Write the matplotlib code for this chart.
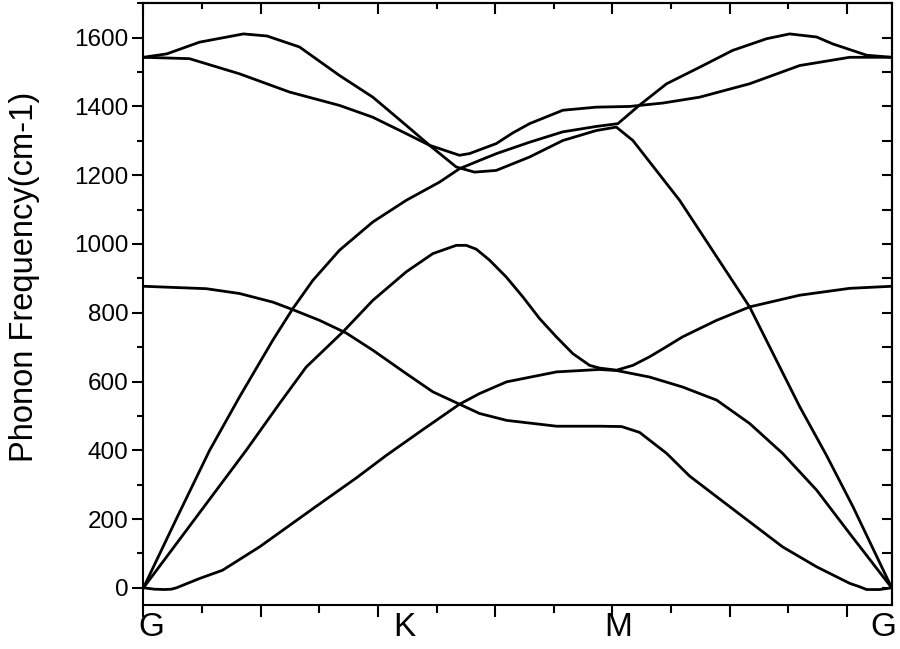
import matplotlib
matplotlib.use("Agg")
import matplotlib.pyplot as plt
from matplotlib.ticker import MultipleLocator, NullFormatter

plt.rcParams['font.family'] = ['Liberation Sans', 'DejaVu Sans']

# ---- data: k-path coordinate (tick units) and frequency (cm-1) ----
c1_x = [0, 1.070, 1.638, 2.206, 2.548, 3.003, 3.459, 3.914, 4.483, 4.937, 5.392, 5.734,
        6.195, 7.048, 7.782, 8.157, 8.464, 8.925, 9.317, 9.778, 10.341, 10.904, 11.195,
        11.485, 12.048, 12.218, 12.338, 12.560, 12.765]
c1_y = [877, 870, 856, 831, 809, 778, 741, 691, 623, 570, 534, 507,
        487, 470, 470, 469, 452, 391, 325, 265, 192, 119, 90,
        61, 13, 3, -5, -5, 0]

c2_x = [0, 0.188, 0.358, 0.478, 0.563, 0.956, 1.348, 1.980, 2.947, 3.635, 4.142, 4.766,
        5.392, 5.734, 6.195, 7.048, 7.782, 8.072, 8.635, 9.198, 9.778, 10.341, 10.904,
        11.485, 12.048, 12.765]
c2_y = [0, -4, -5, -4, 0, 27, 51, 119, 237, 320, 385, 460,
        534, 565, 599, 628, 635, 632, 613, 584, 546, 478, 391,
        284, 158, 0]

c3_x = [0, 1.753, 2.321, 2.776, 3.401, 3.913, 4.483, 4.937, 5.336, 5.507, 5.677, 5.904,
        6.189, 6.473, 6.758, 7.043, 7.326, 7.611, 7.782, 8.072, 8.350, 8.635, 8.920,
        9.198, 9.778, 10.341, 11.195, 12.048, 12.765]
c3_y = [0, 400, 536, 642, 744, 836, 919, 972, 996, 996, 985, 953,
        904, 846, 783, 730, 681, 647, 639, 633, 647, 672, 701,
        730, 778, 817, 851, 871, 877]

c4_x = [0, 0.56, 1.126, 1.638, 2.206, 2.548, 2.889, 3.345, 3.913, 4.483, 5.051, 5.392,
        5.734, 6.024, 6.587, 7.150, 7.730, 8.094, 8.464, 8.925, 9.488, 10.051, 10.631,
        11.024, 11.485, 11.758, 12.338, 12.765]
c4_y = [0, 200, 399, 555, 720, 812, 894, 982, 1064, 1127, 1180, 1219,
        1243, 1263, 1296, 1326, 1342, 1350, 1404, 1466, 1514, 1563, 1597,
        1611, 1602, 1582, 1549, 1543]

c5_x = [0, 0.400, 0.956, 1.706, 2.106, 2.662, 3.345, 3.913, 4.483, 4.881, 5.336, 5.648,
        6.019, 6.587, 7.155, 7.725, 8.067, 8.350, 9.147, 10.341, 11.195, 11.650, 12.104,
        12.765]
c5_y = [1543, 1553, 1587, 1611, 1605, 1573, 1490, 1427, 1345, 1287, 1224, 1209,
        1214, 1253, 1301, 1330, 1340, 1301, 1127, 817, 527, 386, 236,
        0]

c6_x = [0, 0.785, 1.638, 2.491, 3.345, 3.908, 4.483, 4.881, 5.392, 5.563, 6.019, 6.300,
        6.587, 7.155, 7.725, 8.294, 8.863, 9.488, 10.341, 11.195, 12.048, 12.765]
c6_y = [1543, 1539, 1495, 1442, 1403, 1369, 1321, 1287, 1258, 1263, 1292, 1323,
        1350, 1389, 1398, 1400, 1410, 1427, 1466, 1519, 1543, 1543]

branches = [(c1_x, c1_y), (c2_x, c2_y), (c3_x, c3_y),
            (c4_x, c4_y), (c5_x, c5_y), (c6_x, c6_y)]

kpoint_labels = ['G', 'K', 'M', 'G']
kpoint_label_x = [0.14, 4.45, 8.10, 12.63]

y_label = 'Phonon Frequency(cm-1)'

# ---- figure ----
fig = plt.figure(figsize=(9.0, 6.49), dpi=100)
ax = fig.add_axes([0.1594, 0.0678, 0.8317, 0.9271])

for bx, by in branches:
    ax.plot(bx, by, color='black', lw=2.0, solid_joinstyle='round', solid_capstyle='round')

ax.set_xlim(0, 12.77)
ax.set_ylim(-50, 1700)

ax.xaxis.set_major_locator(MultipleLocator(2))
ax.xaxis.set_minor_locator(MultipleLocator(1))
ax.xaxis.set_major_formatter(NullFormatter())
ax.yaxis.set_major_locator(MultipleLocator(200))
ax.yaxis.set_minor_locator(MultipleLocator(100))

ax.tick_params(axis='x', which='major', direction='out', length=8.4, width=1.5)
ax.tick_params(axis='x', which='minor', direction='out', length=5.6, width=1.5)
ax.tick_params(axis='y', which='major', direction='out', length=7.9, width=1.5,
               labelsize=17.5, pad=3)
ax.tick_params(axis='y', which='minor', direction='out', length=4.4, width=1.5)

for s in ax.spines.values():
    s.set_linewidth(1.5)

# top and right axes with inward ticks
top = ax.secondary_xaxis('top')
top.xaxis.set_major_locator(MultipleLocator(2))
top.xaxis.set_minor_locator(MultipleLocator(1))
top.xaxis.set_major_formatter(NullFormatter())
top.tick_params(axis='x', which='major', direction='in', length=8.0, width=1.5)
top.tick_params(axis='x', which='minor', direction='in', length=4.6, width=1.5)
top.spines['top'].set_linewidth(1.5)

right = ax.secondary_yaxis('right')
right.yaxis.set_major_locator(MultipleLocator(200))
right.yaxis.set_minor_locator(MultipleLocator(100))
right.yaxis.set_major_formatter(NullFormatter())
right.tick_params(axis='y', which='major', direction='in', length=7.5, width=1.5)
right.tick_params(axis='y', which='minor', direction='in', length=7.5, width=1.5)
right.spines['right'].set_linewidth(1.5)

for lab, lx in zip(kpoint_labels, kpoint_label_x):
    ax.text(lx, -0.012, lab, transform=ax.get_xaxis_transform(),
            ha='center', va='top', fontsize=24)

ax.set_ylabel(y_label, fontsize=23.5)
ax.yaxis.set_label_coords(-0.138, 0.546)

fig.savefig('out.png', dpi=100)
